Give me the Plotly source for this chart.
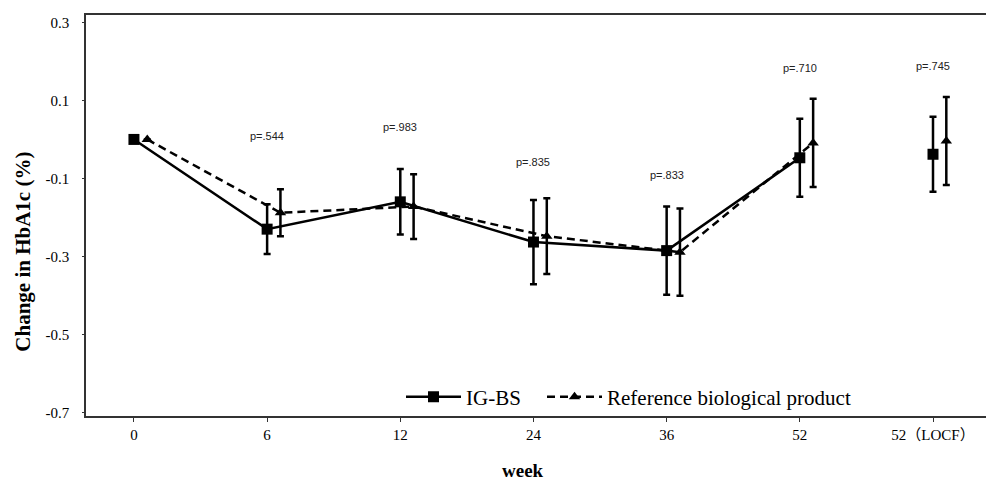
import plotly.graph_objects as go

# ---- data ----
weeks = ["0", "6", "12", "24", "36", "52", "52（LOCF）"]
ig_mean = [0.000, -0.230, -0.160, -0.263, -0.285, -0.047, -0.038]
ig_err = [0.0, 0.064, 0.084, 0.108, 0.113, 0.100, 0.096]
ref_mean = [0.000, -0.188, -0.172, -0.248, -0.289, -0.009, -0.004]
ref_err = [0.0, 0.060, 0.083, 0.097, 0.112, 0.113, 0.113]
p_labels = ["p=.544", "p=.983", "p=.835", "p=.833", "p=.710", "p=.745"]
p_y = [0.008, 0.032, -0.057, -0.092, 0.182, 0.188]
y_ticks = [0.3, 0.1, -0.1, -0.3, -0.5, -0.7]
y_ticktext = ["0.3", "0.1", "-0.1", "-0.3", "-0.5", "-0.7"]

xi = list(range(len(weeks)))
offset = 0.1
xr = [v + offset for v in xi]

serif = "Liberation Serif, Times New Roman, Noto Sans CJK JP, serif"

fig = go.Figure()

n_line = 6  # connected points (LOCF shown separately)

ebar = dict(type="data", visible=True, color="black", thickness=2.5, width=3.5)

# IG-BS connected
fig.add_trace(go.Scatter(
    x=xi[:n_line], y=ig_mean[:n_line], name="IG-BS", mode="lines+markers",
    line=dict(color="black", width=2.5, dash="solid"),
    marker=dict(symbol="square", size=11, color="black"),
    error_y=dict(ebar, array=ig_err[:n_line]), legend="legend",
))
# Reference connected
fig.add_trace(go.Scatter(
    x=xr[:n_line], y=ref_mean[:n_line], name="Reference biological product",
    mode="lines+markers",
    line=dict(color="black", width=2.5, dash="8px,5px"),
    marker=dict(symbol="triangle-up", size=10, color="black"),
    error_y=dict(ebar, array=ref_err[:n_line]), legend="legend2",
))
# LOCF points
fig.add_trace(go.Scatter(
    x=xi[n_line:], y=ig_mean[n_line:], mode="markers", showlegend=False,
    marker=dict(symbol="square", size=11, color="black"),
    error_y=dict(ebar, array=ig_err[n_line:]),
))
fig.add_trace(go.Scatter(
    x=xr[n_line:], y=ref_mean[n_line:], mode="markers", showlegend=False,
    marker=dict(symbol="triangle-up", size=10, color="black"),
    error_y=dict(ebar, array=ref_err[n_line:]),
))

# p-value labels
for i, (lab, py) in enumerate(zip(p_labels, p_y)):
    fig.add_annotation(x=xi[i + 1], y=py, text=lab, showarrow=False,
                       font=dict(family="Liberation Sans, Arial, sans-serif",
                                 size=11, color="#222"))

# axis titles as annotations
fig.add_annotation(xref="paper", yref="paper", x=-0.071, y=0.41,
                   xanchor="center", yanchor="middle",
                   text="<b>Change in HbA1c (%)</b>", textangle=-90,
                   showarrow=False, font=dict(family=serif, size=21, color="black"))
fig.add_annotation(xref="paper", yref="paper", x=0.4855, y=-0.136,
                   xanchor="center", yanchor="middle",
                   text="<b>week</b>", showarrow=False,
                   font=dict(family=serif, size=19, color="black"))

leg_common = dict(orientation="h", yanchor="middle", xanchor="left", y=0.047,
                  font=dict(family=serif, size=21, color="black"),
                  bgcolor="rgba(0,0,0,0)", itemwidth=55)

fig.update_layout(
    width=986, height=481,
    margin=dict(l=86, r=0, t=15, b=65),
    paper_bgcolor="white", plot_bgcolor="white",
    font=dict(family=serif, color="black"),
    showlegend=True,
    legend=dict(leg_common, x=0.35),
    legend2=dict(leg_common, x=0.5067),
    xaxis=dict(
        range=[-0.36, 6.398], tickmode="array", tickvals=xi, ticktext=weeks,
        showline=True, linecolor="#333", linewidth=1.5, mirror=True,
        ticks="outside", ticklen=4, tickcolor="#333", showgrid=False,
        zeroline=False, tickfont=dict(family=serif, size=15, color="black"),
    ),
    yaxis=dict(
        range=[-0.709, 0.319], tickmode="array", tickvals=y_ticks, ticktext=y_ticktext,
        showline=True, linecolor="#333", linewidth=1.5,
        ticks="outside", ticklen=2, tickcolor="#333", showgrid=False,
        zeroline=False, tickfont=dict(family=serif, size=15, color="black"),
        ticklabelstandoff=10,
    ),
)

fig.write_html("out.html", config={"displayModeBar": False},
               post_script="document.body.style.margin='0';")
